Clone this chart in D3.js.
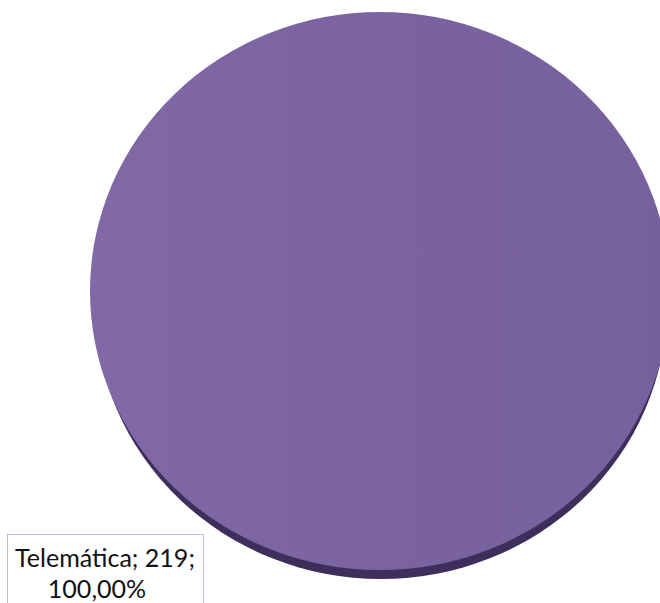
<!DOCTYPE html>
<html><head><meta charset="utf-8">
<script src="https://cdn.jsdelivr.net/npm/d3@7"></script>
<style>html,body{margin:0;padding:0;background:#fff;overflow:hidden}</style>
</head><body>
<svg id="c" width="660" height="603"></svg>
<script>
const categories = ["Telemática"];
const values = [219];
const percentLabels = ["100,00%"];

(function () {
const svg = d3.select("#c");
const cx = 380, cy = 291, rx = 290, ry = 279, depth = 13;

const defs = svg.append("defs");
const g1 = defs.append("linearGradient").attr("id","topg").attr("x1","0").attr("x2","1").attr("y1","0").attr("y2","0");
g1.append("stop").attr("offset","0").attr("stop-color","#8169a8");
g1.append("stop").attr("offset","0.5").attr("stop-color","#7b63a1");
g1.append("stop").attr("offset","1").attr("stop-color","#76609d");

const pieData = d3.pie().sort(null).value(d => d)(values);
const arc = d3.arc().innerRadius(0).outerRadius(rx);
const sideArc = d3.arc().innerRadius(0).outerRadius(rx - 4);

// side (depth)
const sideG = svg.append("g").attr("transform", `translate(${cx + 1},${cy + depth}) scale(1,${(ry - 4) / (rx - 4)})`);
sideG.selectAll("path").data(pieData).join("path")
  .attr("d", sideArc).attr("fill", "#3d2e5c");

// top face
const faceG = svg.append("g").attr("transform", `translate(${cx},${cy}) scale(1,${ry / rx})`);
faceG.selectAll("path").data(pieData).join("path")
  .attr("d", arc).attr("fill", "url(#topg)");

// label box
const lbl = svg.append("g");
lbl.append("rect").attr("x", 7.5).attr("y", 534.5).attr("width", 196).attr("height", 80)
  .attr("fill", "#fff").attr("stroke", "#b8c4d6").attr("stroke-width", 1);
const line1 = `${categories[0]}; ${values[0]};`;
const t1 = lbl.append("text").attr("x", 105).attr("y", 567).attr("text-anchor","middle")
  .attr("font-family","Lato, 'Open Sans', sans-serif").attr("font-size", 24).attr("fill","#111").text(line1);
const w = t1.node().getComputedTextLength();
const fs = 24 * 180 / w;
t1.attr("font-size", fs);
lbl.append("text").attr("x", 97).attr("y", 598).attr("text-anchor","middle")
  .attr("font-family","Lato, 'Open Sans', sans-serif").attr("font-size", fs).attr("fill","#111").text(percentLabels[0]);
})();
</script>
</body></html>
